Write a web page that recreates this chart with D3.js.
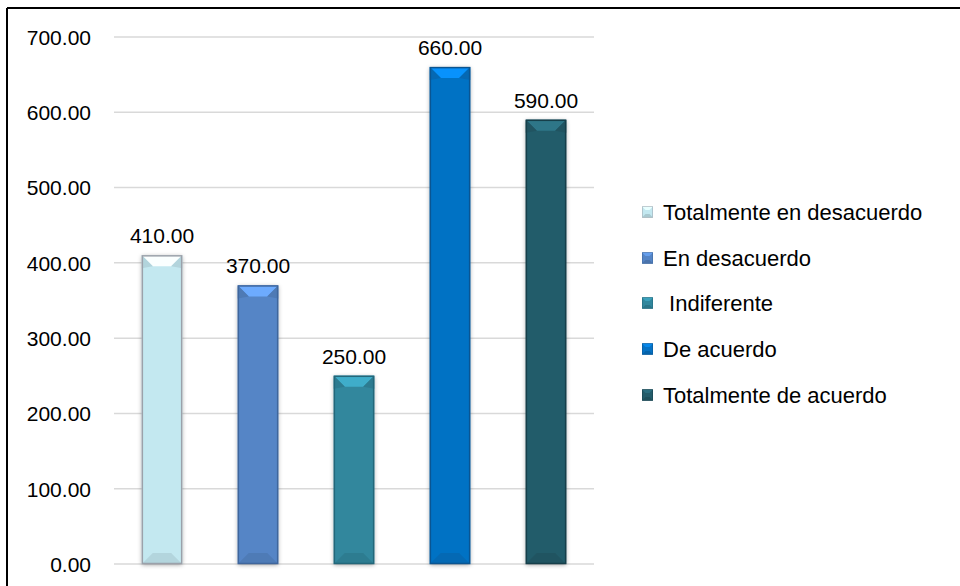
<!DOCTYPE html>
<html>
<head>
<meta charset="utf-8">
<script src="https://cdn.jsdelivr.net/npm/d3@7/dist/d3.min.js"></script>
<style>
  html, body { margin: 0; padding: 0; background: #fff; }
  svg { display: block; font-family: "Liberation Sans", Arial, sans-serif; }
</style>
</head>
<body>
<svg id="chart" width="960" height="586"></svg>
<script>
// Responses per answer option
const categories = ["Totalmente en desacuerdo", "En desacuerdo", " Indiferente", "De acuerdo", "Totalmente de acuerdo"];
const values = [410, 370, 250, 660, 590];
const colors = ["#c3e8f0", "#5585c6", "#31879d", "#0672c4", "#245c6a"];
const edgeColors = ["#9ba1aa", "#3f669c", "#23677a", "#0a5592", "#163f4a"];
const yTicks = [0, 100, 200, 300, 400, 500, 600, 700];

const svg = d3.select("#chart");

// Outer frame (top and left edges visible)
svg.append("line").attr("x1", 7).attr("y1", 8).attr("x2", 960).attr("y2", 8)
  .attr("stroke", "#000").attr("stroke-width", 2);
svg.append("line").attr("x1", 7).attr("y1", 8).attr("x2", 7).attr("y2", 586)
  .attr("stroke", "#000").attr("stroke-width", 2);

const plot = { left: 114, right: 594, top: 37, bottom: 564 };

const x = d3.scaleBand().domain(d3.range(values.length))
  .range([plot.left, plot.right]).paddingInner(0.58).paddingOuter(0.29);
const y = d3.scaleLinear().domain([0, 700]).range([plot.bottom, plot.top]);

// Soft shadow around the bars
const defs = svg.append("defs");
const f = defs.append("filter").attr("id", "shadow")
  .attr("x", "-30%").attr("y", "-10%").attr("width", "160%").attr("height", "120%");
f.append("feDropShadow").attr("dx", 0).attr("dy", 1).attr("stdDeviation", 2.2)
  .attr("flood-color", "#000").attr("flood-opacity", 0.35);

// Gridlines
svg.append("g").selectAll("line").data(yTicks).join("line")
  .attr("x1", plot.left).attr("x2", plot.right)
  .attr("y1", d => y(d)).attr("y2", d => y(d))
  .attr("stroke", "#d9d9d9").attr("stroke-width", 1.5);

// Y axis labels
const yAxis = d3.axisLeft(y).tickValues(yTicks).tickFormat(d3.format(".2f")).tickSize(0).tickPadding(0);
const ga = svg.append("g").attr("transform", "translate(91,0)").call(yAxis);
ga.select(".domain").remove();
ga.selectAll("text").attr("font-size", 21).attr("fill", "#000")
  .attr("font-family", "'Liberation Sans', Arial, sans-serif").attr("dy", "0.35em");

// Beveled bars
const bevel = 11;
const bars = svg.append("g").selectAll("g").data(values).join("g");
bars.each(function (v, i) {
  const g = d3.select(this);
  const x0 = x(i), x1 = x(i) + x.bandwidth();
  const y0 = y(v), y1 = y(0);
  const c = d3.color(colors[i]);
  g.append("rect").attr("x", x0).attr("y", y0).attr("width", x1 - x0).attr("height", y1 - y0)
    .attr("fill", colors[i]).attr("filter", "url(#shadow)");
  const b = Math.min(bevel, (x1 - x0) / 2 - 2);
  // top face
  g.append("polygon")
    .attr("points", [[x0, y0], [x1, y0], [x1 - b, y0 + b], [x0 + b, y0 + b]].join(" "))
    .attr("fill", c.brighter(0.7).formatHex());
  // upper side facets
  g.append("polygon")
    .attr("points", [[x0, y0], [x0 + b, y0 + b], [x0, y0 + b + 2]].join(" "))
    .attr("fill", c.darker(0.25).formatHex());
  g.append("polygon")
    .attr("points", [[x1, y0], [x1 - b, y0 + b], [x1, y0 + b + 2]].join(" "))
    .attr("fill", c.darker(0.25).formatHex());
  // bottom face
  g.append("polygon")
    .attr("points", [[x0, y1], [x1, y1], [x1 - b, y1 - b], [x0 + b, y1 - b]].join(" "))
    .attr("fill", c.darker(0.3).formatHex()).attr("opacity", 0.8);
  // outline
  g.append("rect").attr("x", x0 + 0.5).attr("y", y0 + 0.5).attr("width", x1 - x0 - 1).attr("height", y1 - y0 - 1)
    .attr("fill", "none").attr("stroke", edgeColors[i]).attr("stroke-width", 1.5);
});

// Value labels
svg.append("g").selectAll("text").data(values).join("text")
  .attr("x", (d, i) => x(i) + x.bandwidth() / 2)
  .attr("y", d => y(d) - 12)
  .attr("text-anchor", "middle")
  .attr("font-size", 21).attr("fill", "#000")
  .text(d => d3.format(".2f")(d));

// Legend
const legend = svg.append("g");
const rowY = [212, 258, 303, 349, 395];
const items = legend.selectAll("g").data(categories).join("g")
  .attr("transform", (d, i) => `translate(642,${rowY[i]})`);
items.each(function (d, i) {
  const g = d3.select(this);
  const s = 11, b = 3.5;
  const c = d3.color(colors[i]);
  g.append("rect").attr("x", 0).attr("y", -s / 2).attr("width", s).attr("height", s).attr("fill", colors[i]);
  g.append("polygon").attr("points", [[0, -s / 2], [s, -s / 2], [s - b, -s / 2 + b], [b, -s / 2 + b]].join(" "))
    .attr("fill", c.brighter(0.5).formatHex());
  g.append("polygon").attr("points", [[0, s / 2], [s, s / 2], [s - b, s / 2 - b], [b, s / 2 - b]].join(" "))
    .attr("fill", c.darker(0.4).formatHex());
  g.append("rect").attr("x", 0.25).attr("y", -s / 2 + 0.25).attr("width", s - 0.5).attr("height", s - 0.5)
    .attr("fill", "none").attr("stroke", edgeColors[i]).attr("stroke-width", 0.5);
});
items.append("text")
  .attr("x", 21).attr("dy", "0.36em")
  .attr("font-size", 22).attr("fill", "#000")
  .attr("xml:space", "preserve").style("white-space", "pre")
  .text(d => d);
</script>
</body>
</html>
